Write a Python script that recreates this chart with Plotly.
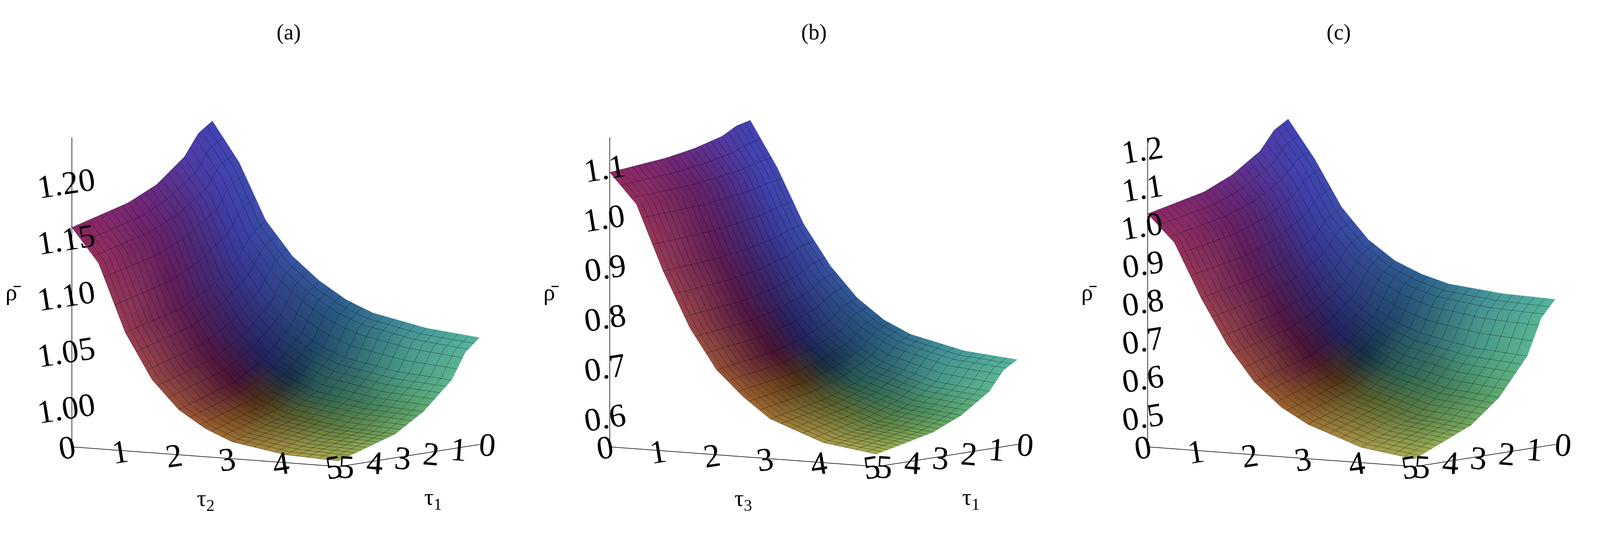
import numpy as np
import plotly.graph_objects as go

tau = [0, 0.5, 1, 1.5, 2, 2.5, 3, 4, 5]   # horizontal axis (front edge)
tau_depth = [0, 0.5, 1, 2, 3, 5]          # depth axis, 0 at the back

# rows: depth value, cols: tau value
rho_a = [
    [1.235, 1.200, 1.150, 1.120, 1.100, 1.085, 1.075, 1.065, 1.060],
    [1.226, 1.192, 1.140, 1.109, 1.089, 1.074, 1.064, 1.054, 1.049],
    [1.207, 1.173, 1.120, 1.086, 1.064, 1.049, 1.039, 1.030, 1.026],
    [1.186, 1.155, 1.098, 1.062, 1.038, 1.023, 1.013, 1.005, 1.002],
    [1.174, 1.143, 1.084, 1.046, 1.022, 1.007, 0.997, 0.989, 0.986],
    [1.160, 1.130, 1.070, 1.030, 1.005, 0.990, 0.980, 0.972, 0.970],
]
rho_b = [
    [1.150, 1.060, 0.950, 0.870, 0.810, 0.770, 0.745, 0.720, 0.710],
    [1.143, 1.056, 0.944, 0.860, 0.798, 0.757, 0.730, 0.703, 0.693],
    [1.127, 1.049, 0.931, 0.840, 0.772, 0.728, 0.698, 0.667, 0.655],
    [1.111, 1.041, 0.918, 0.818, 0.745, 0.699, 0.664, 0.629, 0.616],
    [1.101, 1.035, 0.909, 0.804, 0.728, 0.680, 0.643, 0.605, 0.591],
    [1.090, 1.030, 0.900, 0.790, 0.710, 0.660, 0.620, 0.580, 0.565],
]
rho_c = [
    [1.220, 1.120, 1.000, 0.920, 0.870, 0.840, 0.820, 0.805, 0.800],
    [1.197, 1.101, 0.978, 0.894, 0.839, 0.805, 0.783, 0.764, 0.757],
    [1.148, 1.059, 0.932, 0.836, 0.771, 0.730, 0.702, 0.674, 0.663],
    [1.097, 1.016, 0.883, 0.777, 0.701, 0.652, 0.619, 0.581, 0.566],
    [1.064, 0.989, 0.852, 0.740, 0.657, 0.602, 0.566, 0.522, 0.505],
    [1.030, 0.960, 0.820, 0.700, 0.610, 0.550, 0.510, 0.460, 0.440],
]

panels = [
    ("(a)", rho_a, "τ<sub>2</sub>", "τ<sub>1</sub>", [1.00, 1.05, 1.10, 1.15, 1.20],
     ["1.00", "1.05", "1.10", "1.15", "1.20"], [0.965, 1.24]),
    ("(b)", rho_b, "τ<sub>3</sub>", "τ<sub>1</sub>", [0.6, 0.7, 0.8, 0.9, 1.0, 1.1],
     ["0.6", "0.7", "0.8", "0.9", "1.0", "1.1"], [0.54, 1.16]),
    ("(c)", rho_c, "τ<sub>3</sub>", "τ<sub>2</sub>", [0.5, 0.6, 0.7, 0.8, 0.9, 1.0, 1.1, 1.2],
     ["0.5", "0.6", "0.7", "0.8", "0.9", "1.0", "1.1", "1.2"], [0.42, 1.23]),
]

# depth axis drawn with 0 at the back: scene y = 5 - depth
ydraw = [5 - t for t in tau_depth]

# Maple-like colouring: hue by angle around the centre of the base, darker toward the centre
hue_pos = [0.0, 0.125, 0.25, 0.375, 0.5, 0.625, 0.75, 0.875, 1.0]
hue_rgb = np.array([
    (170, 60, 190), (95, 95, 255), (70, 150, 220), (120, 255, 225), (150, 255, 150),
    (240, 250, 120), (240, 150, 70), (205, 55, 140), (170, 60, 190)])
X, Y = np.meshgrid(tau, tau_depth)
ang = (np.arctan2(Y - 2.5, X - 2.5) + np.pi) / (2 * np.pi)
shade = 0.35 + 0.65 * np.clip(np.hypot(X - 2.5, Y - 2.5) / 2.8, 0, 1)
vcol = ["rgb(%d,%d,%d)" % tuple(int(s * np.interp(a, hue_pos, hue_rgb[:, c])) for c in range(3))
        for a, s in zip(ang.ravel(), shade.ravel())]

nr, nc = len(tau_depth), len(tau)
I, J, K = [], [], []
for r in range(nr - 1):
    for c in range(nc - 1):
        p = r * nc + c
        I += [p, p]
        J += [p + 1, p + nc + 1]
        K += [p + nc + 1, p + nc]
xv = np.tile(tau, nr)
yv = np.repeat(ydraw, nc)

fig = go.Figure()
domains = [[0.0, 0.33], [0.335, 0.665], [0.67, 1.0]]
serif = "Liberation Serif"
for i, (lab, z, xt, yt, zt, ztt, zr) in enumerate(panels):
    sc = "scene" if i == 0 else f"scene{i+1}"
    fig.add_trace(go.Mesh3d(
        x=xv, y=yv, z=np.ravel(z), i=I, j=J, k=K, vertexcolor=vcol, scene=sc,
        flatshading=False, hoverinfo="skip",
        lighting=dict(ambient=0.7, diffuse=0.5, specular=0.15, roughness=0.6),
        lightposition=dict(x=1000, y=-1000, z=2000),
    ))
    fig.add_trace(go.Surface(
        x=tau, y=ydraw, z=z, opacity=0.02, showscale=False, scene=sc,
        colorscale=[[0, "black"], [1, "black"]], hoverinfo="skip",
        contours=dict(
            x=dict(show=True, start=0, end=5, size=0.2, color="black", width=2),
            y=dict(show=True, start=0, end=5, size=0.2, color="black", width=2),
        ),
    ))
    ax = dict(showgrid=False, showbackground=False, zeroline=False, showline=True,
              linecolor="black", linewidth=3, ticks="outside", tickcolor="black",
              tickfont=dict(family=serif, size=32, color="black"), title=dict(text=""))
    tfont = dict(family=serif, size=60, color="black")
    fig.update_layout(**{sc: dict(
        domain=dict(x=domains[i], y=[0, 0.92]),
        xaxis=dict(ax, range=[0, 5], tickvals=[0, 1, 2, 3, 4, 5]),
        yaxis=dict(ax, range=[0, 5], tickvals=[0, 1, 2, 3, 4, 5],
                   ticktext=["5", "4", "3", "2", "1", "0"]),
        zaxis=dict(ax, range=zr, tickvals=zt, ticktext=ztt),
        aspectmode="manual", aspectratio=dict(x=1.3, y=1.0, z=1.25),
        camera=dict(eye=dict(x=1.3, y=-1.9, z=0.2), center=dict(x=0, y=0, z=-0.05),
                    projection=dict(type="orthographic")),
        annotations=[
            dict(x=2.5, y=0, z=zr[0], text=xt, showarrow=False, font=tfont, yshift=-110),
            dict(x=5, y=2.5, z=zr[0], text=yt, showarrow=False, font=tfont,
                 xshift=60, yshift=-110),
            dict(x=0, y=0, z=(zr[0] + zr[1]) / 2, text="ρ̄", showarrow=False, font=tfont,
                 xshift=-150),
        ],
    )})
    fig.add_annotation(text=lab, x=sum(domains[i]) / 2, y=0.985, xref="paper", yref="paper",
                       showarrow=False, font=dict(family=serif, size=56, color="black"))

fig.update_layout(width=4150, height=1426, paper_bgcolor="white",
                  margin=dict(l=20, r=20, t=20, b=20))
fig.write_html("out.html")
